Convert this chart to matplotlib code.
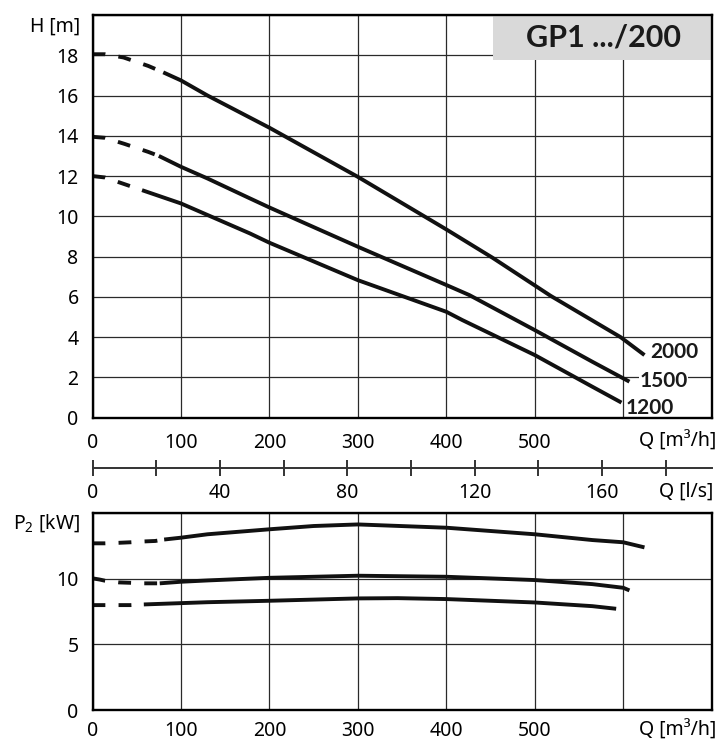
import numpy as np
import matplotlib
matplotlib.use('Agg')
import matplotlib.pyplot as plt
from matplotlib.patches import Rectangle

plt.rcParams['font.family'] = ['Noto Sans', 'DejaVu Sans']
plt.rcParams['mathtext.fontset'] = 'custom'
plt.rcParams['mathtext.rm'] = 'Noto Sans'
BOLD = ['Lato', 'DejaVu Sans']

# Förderhöhe H(Q) für 2000 / 1500 / 1200 1/min
q_h2000 = [0, 14, 35, 63, 80, 100, 130, 200, 300, 400, 452, 518, 597, 624]
h2000   = [18.05, 18.05, 17.89, 17.47, 17.15, 16.75, 16.0, 14.4, 11.96, 9.35, 7.95, 6.05, 4.0, 3.11]
q_h1500 = [0, 14, 36, 63, 75, 100, 130, 178, 200, 300, 400, 426, 500, 565, 607]
h1500   = [13.95, 13.9, 13.6, 13.2, 13.0, 12.46, 11.88, 10.89, 10.44, 8.49, 6.59, 6.09, 4.35, 2.78, 1.79]
q_h1200 = [0, 14, 36, 56, 100, 178, 200, 300, 400, 418, 500, 565, 598]
h1200   = [12.0, 11.93, 11.6, 11.3, 10.64, 9.15, 8.69, 6.83, 5.26, 4.85, 3.11, 1.54, 0.75]

# Leistung P2(Q)
q_p2000 = [0, 14, 30, 43, 57, 71, 81, 100, 130, 200, 250, 300, 400, 500, 565, 600, 624]
p2000   = [12.71, 12.71, 12.75, 12.79, 12.85, 12.89, 13.0, 13.14, 13.4, 13.78, 14.03, 14.15, 13.9, 13.4, 12.96, 12.79, 12.4]
q_p1500 = [0, 8, 14, 30, 43, 57, 76, 100, 130, 200, 300, 400, 500, 565, 600, 607]
p1500   = [10.04, 9.95, 9.86, 9.73, 9.7, 9.66, 9.66, 9.78, 9.88, 10.08, 10.24, 10.16, 9.91, 9.6, 9.32, 9.12]
q_p1200 = [0, 14, 29, 43, 58, 100, 130, 200, 300, 345, 400, 500, 565, 592]
p1200   = [8.0, 8.0, 8.0, 8.0, 8.05, 8.15, 8.22, 8.33, 8.51, 8.53, 8.46, 8.2, 7.92, 7.72]

# Ende des gestrichelten Bereichs
h_dash = [80, 75, 56]
p_dash = [81, 76, 58]

speeds = ['2000', '1500', '1200']
q_ticks = [0, 100, 200, 300, 400, 500, 600]
q_labels = ['0', '100', '200', '300', '400', '500', '']
h_ticks = [0, 2, 4, 6, 8, 10, 12, 14, 16, 18, 20]
p_ticks = [0, 5, 10, 15]
ls_ticks = [0, 20, 40, 60, 80, 100, 120, 140, 160, 180]

FS = 14
GRID = '#2a2a2a'


def curve(ax, q, v, q_d):
    q = np.asarray(q)
    v = np.asarray(v)
    a = q <= q_d
    b = q >= q_d
    kw = dict(color='#111111', lw=2.8, solid_capstyle='butt', dash_capstyle='butt',
              solid_joinstyle='round', zorder=4)
    ax.plot(q[a], v[a], ls=(0, (3.3, 3.4)), **kw)
    ax.plot(q[b], v[b], ls='-', **kw)


def style(ax):
    for s in ax.spines.values():
        s.set_linewidth(1.7)
        s.set_zorder(6)
    ax.grid(True, color=GRID, lw=0.9)
    ax.set_axisbelow(True)
    ax.tick_params(length=0, labelsize=FS)


fig = plt.figure(figsize=(7.21, 7.41), dpi=100)

ax1 = fig.add_axes([0.1283, 0.4363, 0.8588, 0.5435])
ax1.set_xlim(0, 700)
ax1.set_ylim(0, 20)
ax1.set_xticks(q_ticks)
ax1.set_xticklabels(q_labels)
ax1.set_yticks(h_ticks)
ax1.set_yticklabels([str(t) for t in h_ticks[:-1]] + [''])
style(ax1)
ax1.tick_params(axis='x', pad=11)
ax1.tick_params(axis='y', pad=10)

curve(ax1, q_h2000, h2000, h_dash[0])
curve(ax1, q_h1500, h1500, h_dash[1])
curve(ax1, q_h1200, h1200, h_dash[2])

lab_pos = [(630, 2.95), (618, 1.54), (603, 0.18)]
for (x, y), s in zip(lab_pos, speeds):
    ax1.text(x, y, s, fontsize=15, family=BOLD, fontweight='bold', ha='left',
             va='baseline', color='#1a1a1a', zorder=5,
             bbox=dict(fc='white', ec='none', pad=0.5))

ax1.add_patch(Rectangle((0.6468, 0.888), 0.3532, 0.112, transform=ax1.transAxes,
                        fc='#d9d9d9', ec='none', zorder=5))
ax1.text(0.8256, 0.943, 'GP1 .../200', transform=ax1.transAxes, fontsize=22,
         family=BOLD, fontweight='bold', ha='center', va='center', color='#1a1a1a',
         zorder=6)

ax1.annotate('H [m]', xy=(0, 1), xycoords='axes fraction', xytext=(-9, -8.6),
             textcoords='offset points', ha='right', va='center', fontsize=FS)
ax1.annotate('Q [m³/h]', xy=(1, 0), xycoords='axes fraction', xytext=(3.5, -17.5),
             textcoords='offset points', ha='right', va='center', fontsize=FS)

# Zweite Q-Skala in l/s
axq = fig.add_axes([0.1283, 0.368, 0.8588, 0.0001])
axq.set_xlim(0, 700 / 3.6)
axq.set_ylim(0, 1)
for k in ['top', 'left', 'right']:
    axq.spines[k].set_visible(False)
axq.spines['bottom'].set_linewidth(1.4)
axq.spines['bottom'].set_color('#333333')
axq.set_yticks([])
axq.set_xticks(ls_ticks)
axq.set_xticklabels([str(t) if t % 40 == 0 else '' for t in ls_ticks])
axq.tick_params(axis='x', direction='inout', length=11.5, width=1.4, color='#333333',
                labelsize=FS, pad=5)
axq.patch.set_visible(False)
axq.annotate('Q [l/s]', xy=(1, 0), xycoords='axes fraction', xytext=(1.2, -16.5),
             textcoords='offset points', ha='right', va='center', fontsize=FS)

# Leistungsdiagramm
ax2 = fig.add_axes([0.1283, 0.0418, 0.8588, 0.2655])
ax2.set_xlim(0, 700)
ax2.set_ylim(0, 15)
ax2.set_xticks(q_ticks)
ax2.set_xticklabels(q_labels)
ax2.set_yticks(p_ticks)
ax2.set_yticklabels(['0', '5', '10', ''])
style(ax2)
ax2.tick_params(axis='x', pad=8)
ax2.tick_params(axis='y', pad=10)

curve(ax2, q_p2000, p2000, p_dash[0])
curve(ax2, q_p1500, p1500, p_dash[1])
curve(ax2, q_p1200, p1200, p_dash[2])

ax2.annotate(r'P$\mathregular{_2}$ [kW]', xy=(0, 1), xycoords='axes fraction',
             xytext=(-9, -6.8), textcoords='offset points', ha='right', va='center',
             fontsize=FS)
ax2.annotate('Q [m³/h]', xy=(1, 0), xycoords='axes fraction', xytext=(3.5, -14.5),
             textcoords='offset points', ha='right', va='center', fontsize=FS)

fig.savefig('out.png', dpi=100)
